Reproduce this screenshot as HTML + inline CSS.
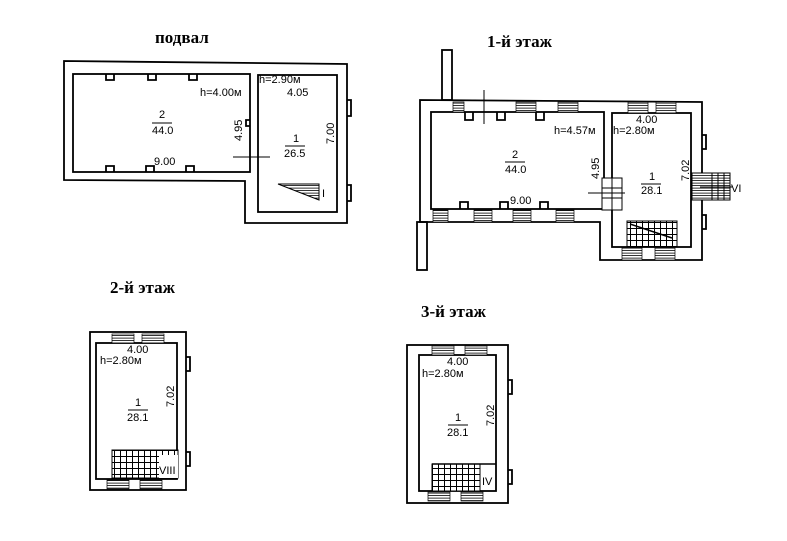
<!DOCTYPE html>
<html><head><meta charset="utf-8"><style>
body{margin:0;background:#fff;width:787px;height:541px;overflow:hidden}
svg{display:block}
.t{font-family:"Liberation Serif","Noto Serif CJK SC",serif;font-weight:bold;font-size:17px;fill:#000}
.s{font-family:"Liberation Sans","Noto Sans CJK SC",sans-serif;font-size:11px;fill:#000}
.w{fill:none;stroke:#000;stroke-width:1.8}
</style></head><body>
<svg width="787" height="541" viewBox="0 0 787 541" xmlns="http://www.w3.org/2000/svg">
<defs>
<pattern id="h" width="3" height="2.5" patternUnits="userSpaceOnUse"><rect width="3" height="2.5" fill="#fff"/><line x1="0" y1="0.6" x2="3" y2="0.6" stroke="#000" stroke-width="0.8"/></pattern>
<pattern id="g" width="6" height="6" patternUnits="userSpaceOnUse"><rect width="6" height="6" fill="#fff"/><path d="M0 0.5H6M0.5 0V6" stroke="#000" stroke-width="1"/></pattern>
</defs>
<text class="t" x="155" y="43">подвал</text>
<text class="t" x="487" y="47">1-й этаж</text>
<text class="t" x="110" y="293">2-й этаж</text>
<text class="t" x="421" y="317">3-й этаж</text>

<!-- basement -->
<polygon class="w" points="64,61 347,64 347,223 245,223 245,181 64,180"/>
<rect class="w" x="73" y="74" width="177" height="98"/>
<rect class="w" x="258" y="75" width="79" height="137"/>
<path class="w" d="M106,74v6h8v-6M148,74v6h8v-6M189,74v6h8v-6M106,172v-6h8v6M146,172v-6h8v6M186,172v-6h8v6M347,100h4v16h-4M347,185h4v16h-4M250,120h-4v6h4"/>
<line x1="233" y1="157" x2="270" y2="157" stroke="#000"/>
<path d="M278,184 L319,200 L319,184 Z" fill="url(#h)" stroke="#000"/>
<text class="s" x="322" y="197">I</text>
<text class="s" x="200" y="96">h=4.00м</text>
<text class="s" x="159" y="118">2</text>
<line x1="152" y1="123" x2="172" y2="123" stroke="#000"/>
<text class="s" x="152" y="134">44.0</text>
<text class="s" x="154" y="165">9.00</text>
<text class="s" transform="translate(242,141) rotate(-90)">4.95</text>
<text class="s" x="259" y="83">h=2.90м</text>
<text class="s" x="287" y="96">4.05</text>
<text class="s" x="293" y="142">1</text>
<line x1="285" y1="146" x2="305" y2="146" stroke="#000"/>
<text class="s" x="284" y="157">26.5</text>
<text class="s" transform="translate(334,144) rotate(-90)">7.00</text>

<!-- 1st floor -->
<rect class="w" x="442" y="50" width="10" height="50"/>
<rect class="w" x="417" y="222" width="10" height="48"/>
<polygon class="w" points="420,100 702,102 702,260 600,260 600,222 420,222"/>
<rect class="w" x="431" y="112" width="173" height="97"/>
<rect class="w" x="612" y="113" width="79" height="134"/>
<path class="w" d="M465,112v8h8v-8M497,112v8h8v-8M536,112v8h8v-8M460,209v-7h8v7M500,209v-7h8v7M540,209v-7h8v7M702,135h4v14h-4M702,215h4v14h-4"/>
<rect x="453" y="102" width="11" height="10" fill="url(#h)" stroke="#000" stroke-width=".7"/>
<rect x="516" y="102" width="20" height="10" fill="url(#h)" stroke="#000" stroke-width=".7"/>
<rect x="558" y="102" width="20" height="10" fill="url(#h)" stroke="#000" stroke-width=".7"/>
<rect x="628" y="102" width="20" height="11" fill="url(#h)" stroke="#000" stroke-width=".7"/>
<rect x="656" y="102" width="20" height="11" fill="url(#h)" stroke="#000" stroke-width=".7"/>
<rect x="433" y="210" width="15" height="12" fill="url(#h)" stroke="#000" stroke-width=".7"/>
<rect x="474" y="210" width="18" height="12" fill="url(#h)" stroke="#000" stroke-width=".7"/>
<rect x="513" y="210" width="18" height="12" fill="url(#h)" stroke="#000" stroke-width=".7"/>
<rect x="556" y="210" width="18" height="12" fill="url(#h)" stroke="#000" stroke-width=".7"/>
<rect x="622" y="248" width="20" height="12" fill="url(#h)" stroke="#000" stroke-width=".7"/>
<rect x="655" y="248" width="20" height="12" fill="url(#h)" stroke="#000" stroke-width=".7"/>
<line x1="484" y1="90" x2="484" y2="124" stroke="#000"/>
<rect x="602" y="178" width="20" height="32" fill="#fff" stroke="#000"/>
<path d="M602,188h20M602,198h20M612,178v32" stroke="#000" fill="none"/>
<line x1="588" y1="193" x2="625" y2="193" stroke="#000"/>
<rect x="692" y="173" width="38" height="27" fill="url(#h)" stroke="#000"/>
<path d="M712,173v27M718,173v27M724,173v27M700,187h32" stroke="#000"/>
<text class="s" x="731" y="192">VI</text>
<rect x="627" y="221" width="50" height="26" fill="url(#g)" stroke="#000"/>
<line x1="630" y1="224" x2="672" y2="238" stroke="#000" stroke-width="1.5"/>
<text class="s" x="554" y="134">h=4.57м</text>
<text class="s" x="512" y="158">2</text>
<line x1="505" y1="162" x2="525" y2="162" stroke="#000"/>
<text class="s" x="505" y="173">44.0</text>
<text class="s" x="510" y="204">9.00</text>
<text class="s" transform="translate(599,179) rotate(-90)">4.95</text>
<text class="s" x="636" y="123">4.00</text>
<text class="s" x="613" y="134">h=2.80м</text>
<text class="s" x="649" y="180">1</text>
<line x1="641" y1="184" x2="661" y2="184" stroke="#000"/>
<text class="s" x="641" y="194">28.1</text>
<text class="s" transform="translate(689,181) rotate(-90)">7.02</text>

<!-- 2nd floor -->
<rect class="w" x="90" y="332" width="96" height="158"/>
<rect class="w" x="96" y="343" width="81" height="136"/>
<path class="w" d="M186,357h4v14h-4M186,452h4v14h-4"/>
<rect x="112" y="334" width="22" height="9" fill="url(#h)" stroke="#000" stroke-width=".7"/>
<rect x="142" y="334" width="22" height="9" fill="url(#h)" stroke="#000" stroke-width=".7"/>
<rect x="107" y="480" width="22" height="9" fill="url(#h)" stroke="#000" stroke-width=".7"/>
<rect x="140" y="480" width="22" height="9" fill="url(#h)" stroke="#000" stroke-width=".7"/>
<rect x="112" y="450" width="66" height="28" fill="url(#g)" stroke="#000"/>
<rect x="159" y="455" width="19" height="23" fill="#fff" stroke="none"/>
<text class="s" x="159" y="474">VIII</text>
<text class="s" x="127" y="353">4.00</text>
<text class="s" x="100" y="364">h=2.80м</text>
<text class="s" x="135" y="406">1</text>
<line x1="128" y1="410" x2="148" y2="410" stroke="#000"/>
<text class="s" x="127" y="421">28.1</text>
<text class="s" transform="translate(174,407) rotate(-90)">7.02</text>

<!-- 3rd floor -->
<rect class="w" x="407" y="345" width="101" height="158"/>
<rect class="w" x="419" y="355" width="77" height="136"/>
<path class="w" d="M508,380h4v14h-4M508,470h4v14h-4"/>
<rect x="432" y="346" width="22" height="9" fill="url(#h)" stroke="#000" stroke-width=".7"/>
<rect x="465" y="346" width="22" height="9" fill="url(#h)" stroke="#000" stroke-width=".7"/>
<rect x="428" y="492" width="22" height="9" fill="url(#h)" stroke="#000" stroke-width=".7"/>
<rect x="461" y="492" width="22" height="9" fill="url(#h)" stroke="#000" stroke-width=".7"/>
<rect x="432" y="464" width="48" height="27" fill="url(#g)" stroke="#000"/>
<line x1="432" y1="464" x2="496" y2="464" stroke="#000" stroke-width="1.5"/>
<text class="s" x="482" y="485">IV</text>
<text class="s" x="447" y="365">4.00</text>
<text class="s" x="422" y="377">h=2.80м</text>
<text class="s" x="455" y="421">1</text>
<line x1="448" y1="425" x2="468" y2="425" stroke="#000"/>
<text class="s" x="447" y="436">28.1</text>
<text class="s" transform="translate(494,426) rotate(-90)">7.02</text>
</svg>
</body></html>
